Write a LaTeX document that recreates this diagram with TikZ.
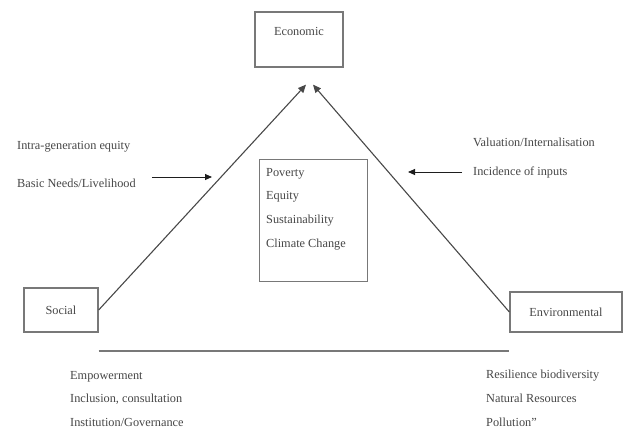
\documentclass[tikz,border=0pt]{standalone}
\usepackage{fontspec}
\setmainfont{Liberation Serif}
\usetikzlibrary{arrows.meta,calc,positioning}
\definecolor{txt}{RGB}{70,70,70}
\definecolor{edge}{RGB}{120,120,120}
\definecolor{arr}{RGB}{30,30,30}
\tikzset{
  box/.style={draw=edge,line width=1.3pt,inner sep=0pt},
  lab/.style={font=\fontsize{12.3}{23.7}\selectfont,text=txt,inner sep=0pt},
  side/.style={-{Triangle[length=7pt,width=6pt]},arr,line width=0.9pt},
  leg/.style={-{Triangle[length=8pt,width=7pt]},edge!60!black,line width=1.1pt},
  base/.style={edge,line width=2pt},
}

\begin{document}
\begin{tikzpicture}[x=1pt,y=-1pt]
\useasboundingbox (0,0) rectangle (627,432);
% ---- the three pillars ----
\node[box,minimum width=88,minimum height=55] (econ) at (299,39.5) {};
\node[lab] (econ-t) at ($(econ.north)+(0,20)$) {Economic};
\node[box,lab,minimum width=74,minimum height=44] (social) at (61,310) {Social};
\node[box,lab,minimum width=112,minimum height=40] (env) at (566,312) {Environmental};

% ---- centre issues ----
\node[box,minimum width=108,minimum height=122,anchor=north west] (issues) at (259,159) {};
\node[lab,align=left,anchor=north west] (issues-t) at ($(issues.north west)+(7,9)$)
  {Poverty\\Equity\\Sustainability\\Climate Change};

% ---- legs of the triangle ----
\coordinate (apexL) at ($(econ.south)+(7,17)$);
\coordinate (apexR) at ($(econ.south)+(14,17)$);
\draw[leg] (social.east) -- (apexL);
\draw[leg] (env.west) -- (apexR);
\draw[base] ($(social.south east)+(0,18)$) -- ($(env.south west)+(0,18)$);

% ---- side notes ----
\node[lab,anchor=west] (intra) at (17,147) {Intra-generation equity};
\node[lab,anchor=west] (needs) at (17,183) {Basic Needs/Livelihood};
\coordinate (needs-in) at (212,177);
\draw[side] ([xshift=16pt,yshift=6pt]needs.east) -- (needs-in);

\node[lab,anchor=west] (valu) at (473,142) {Valuation/Internalisation};
\node[lab,anchor=west] (incid) at (473,172) {Incidence of inputs};
\coordinate (incid-in) at (408,172);
\draw[side] ([xshift=-11pt]incid.west) -- (incid-in);

% ---- bottom lists ----
\node[lab,align=left,anchor=north west] (soc-list) at (70,371)
  {Empowerment\\Inclusion, consultation\\Institution/Governance};
\node[lab,align=left,anchor=north west] (env-list) at (486,370)
  {Resilience biodiversity\\Natural Resources\\Pollution''};
\end{tikzpicture}
\end{document}
